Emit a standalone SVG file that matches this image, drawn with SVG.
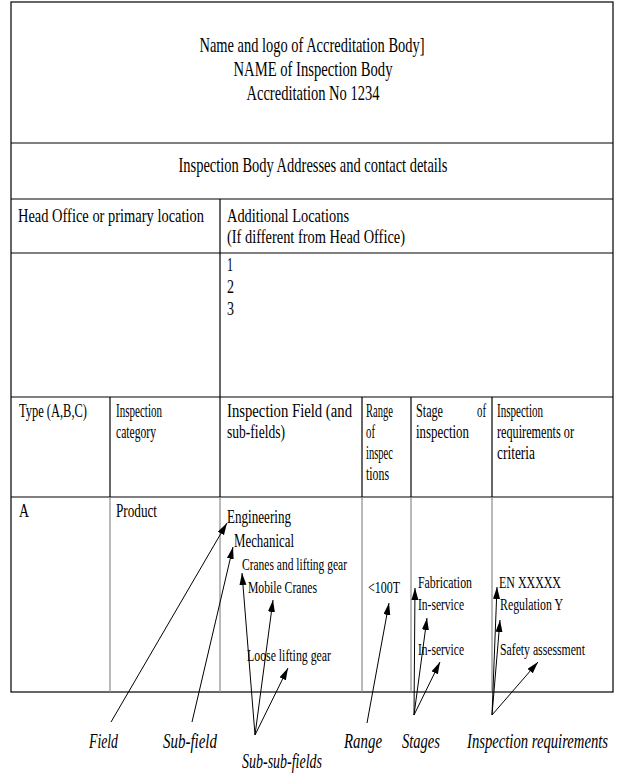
<svg xmlns="http://www.w3.org/2000/svg" width="624" height="780" viewBox="0 0 624 780">
<style>
text{font-family:"Liberation Serif","Times New Roman",serif;fill:#000}
.t{font-size:21px}
.b{font-size:18px}
.s{font-size:16px}
.l{font-size:20px;font-style:italic}
.line{stroke:#000;stroke-width:1.2;fill:none}
.grey{stroke:#8a8a8a;stroke-width:1.2;fill:none}
.arr{stroke:#000;stroke-width:1;fill:none;marker-end:url(#ah)}
</style>
<defs>
<marker id="ah" markerUnits="userSpaceOnUse" markerWidth="13" markerHeight="8" refX="12" refY="3.5" orient="auto">
<path d="M0,0 L12,3.5 L0,7 z" fill="#000"/>
</marker>
</defs>
<rect width="624" height="780" fill="#fff"/>
<g id="table-grid">
<rect x="11" y="2" width="602" height="690" class="line"/>
<line x1="11" y1="143" x2="613" y2="143" class="line"/>
<line x1="11" y1="199" x2="613" y2="199" class="line"/>
<line x1="11" y1="253" x2="613" y2="253" class="line"/>
<line x1="11" y1="397" x2="613" y2="397" class="line"/>
<line x1="11" y1="497" x2="613" y2="497" class="line"/>
<line x1="220" y1="199" x2="220" y2="397" class="line"/>
<line x1="110" y1="397" x2="110" y2="497" class="line"/>
<line x1="220" y1="397" x2="220" y2="497" class="line"/>
<line x1="362" y1="397" x2="362" y2="497" class="line"/>
<line x1="411" y1="397" x2="411" y2="497" class="line"/>
<line x1="492" y1="397" x2="492" y2="497" class="line"/>
<line x1="110" y1="497" x2="110" y2="692" class="grey"/>
<line x1="220" y1="497" x2="220" y2="692" class="grey"/>
<line x1="362" y1="497" x2="362" y2="692" class="grey"/>
<line x1="411" y1="497" x2="411" y2="692" class="grey"/>
<line x1="492" y1="497" x2="492" y2="692" class="grey"/>
</g>
<g id="title">
<text class="t" x="312" y="52" text-anchor="middle" textLength="225" lengthAdjust="spacingAndGlyphs">Name and logo of Accreditation Body]</text>
<text class="t" x="313" y="76" text-anchor="middle" textLength="159" lengthAdjust="spacingAndGlyphs">NAME of Inspection Body</text>
<text class="t" x="313" y="100" text-anchor="middle" textLength="133" lengthAdjust="spacingAndGlyphs">Accreditation No 1234</text>
</g>
<g id="addresses">
<text class="t" x="313" y="172" text-anchor="middle" textLength="269" lengthAdjust="spacingAndGlyphs">Inspection Body Addresses and contact details</text>
</g>
<g id="locations">
<text class="b" x="18" y="222" textLength="186" lengthAdjust="spacingAndGlyphs">Head Office or primary location</text>
<text class="b" x="227" y="222" textLength="122" lengthAdjust="spacingAndGlyphs">Additional Locations</text>
<text class="b" x="227" y="243" textLength="178" lengthAdjust="spacingAndGlyphs">(If different from Head Office)</text>
<text class="b" x="227" y="271" textLength="6" lengthAdjust="spacingAndGlyphs">1</text>
<text class="b" x="227" y="293" textLength="7" lengthAdjust="spacingAndGlyphs">2</text>
<text class="b" x="227" y="315" textLength="7" lengthAdjust="spacingAndGlyphs">3</text>
</g>
<g id="header-row">
<text class="b" x="19" y="417" textLength="68" lengthAdjust="spacingAndGlyphs">Type (A,B,C)</text>
<text class="b" x="116" y="417" textLength="46" lengthAdjust="spacingAndGlyphs">Inspection</text>
<text class="b" x="116" y="438" textLength="40" lengthAdjust="spacingAndGlyphs">category</text>
<text class="b" x="227" y="417" textLength="125" lengthAdjust="spacingAndGlyphs">Inspection Field (and</text>
<text class="b" x="227" y="438" textLength="58" lengthAdjust="spacingAndGlyphs">sub-fields)</text>
<text class="b" x="366" y="417" textLength="27" lengthAdjust="spacingAndGlyphs">Range</text>
<text class="b" x="366" y="438" textLength="9" lengthAdjust="spacingAndGlyphs">of</text>
<text class="b" x="366" y="459" textLength="27" lengthAdjust="spacingAndGlyphs">inspec</text>
<text class="b" x="366" y="480" textLength="23" lengthAdjust="spacingAndGlyphs">tions</text>
<text class="b" x="416" y="417" textLength="27" lengthAdjust="spacingAndGlyphs">Stage</text>
<text class="b" x="477" y="417" textLength="9" lengthAdjust="spacingAndGlyphs">of</text>
<text class="b" x="416" y="438" textLength="53" lengthAdjust="spacingAndGlyphs">inspection</text>
<text class="b" x="497" y="417" textLength="46" lengthAdjust="spacingAndGlyphs">Inspection</text>
<text class="b" x="497" y="438" textLength="77" lengthAdjust="spacingAndGlyphs">requirements or</text>
<text class="b" x="497" y="459" textLength="38" lengthAdjust="spacingAndGlyphs">criteria</text>
</g>
<g id="data-row">
<text class="b" x="19" y="517" textLength="10" lengthAdjust="spacingAndGlyphs">A</text>
<text class="b" x="116" y="517" textLength="41" lengthAdjust="spacingAndGlyphs">Product</text>
<text class="b" x="227" y="523" textLength="64" lengthAdjust="spacingAndGlyphs">Engineering</text>
<text class="b" x="234" y="547" textLength="60" lengthAdjust="spacingAndGlyphs">Mechanical</text>
<text class="s" x="242" y="570" textLength="105" lengthAdjust="spacingAndGlyphs">Cranes and lifting gear</text>
<text class="s" x="248" y="593" textLength="69" lengthAdjust="spacingAndGlyphs">Mobile Cranes</text>
<text class="s" x="247" y="661" textLength="84" lengthAdjust="spacingAndGlyphs">Loose lifting gear</text>
<text class="s" x="368" y="593" textLength="32" lengthAdjust="spacingAndGlyphs">&lt;100T</text>
<text class="s" x="418" y="588" textLength="54" lengthAdjust="spacingAndGlyphs">Fabrication</text>
<text class="s" x="418" y="610" textLength="46" lengthAdjust="spacingAndGlyphs">In-service</text>
<text class="s" x="418" y="655" textLength="46" lengthAdjust="spacingAndGlyphs">In-service</text>
<text class="s" x="499" y="588" textLength="62" lengthAdjust="spacingAndGlyphs">EN XXXXX</text>
<text class="s" x="500" y="610" textLength="63" lengthAdjust="spacingAndGlyphs">Regulation Y</text>
<text class="s" x="500" y="655" textLength="85" lengthAdjust="spacingAndGlyphs">Safety assessment</text>
</g>
<g id="connectors">
<line x1="111" y1="722" x2="227" y2="523" class="arr"/>
<line x1="192" y1="722" x2="233" y2="547" class="arr"/>
<line x1="255" y1="735" x2="242" y2="573" class="arr"/>
<line x1="255" y1="735" x2="273" y2="600" class="arr"/>
<line x1="255" y1="735" x2="288" y2="668" class="arr"/>
<line x1="367" y1="723" x2="389" y2="603" class="arr"/>
<line x1="414" y1="715" x2="415" y2="588" class="arr"/>
<line x1="414" y1="715" x2="427" y2="618" class="arr"/>
<line x1="414" y1="715" x2="440" y2="662" class="arr"/>
<line x1="492" y1="715" x2="497" y2="587" class="arr"/>
<line x1="492" y1="715" x2="500" y2="620" class="arr"/>
<line x1="492" y1="715" x2="538" y2="662" class="arr"/>
</g>
<g id="label-field"><text class="l" x="89" y="748" textLength="29" lengthAdjust="spacingAndGlyphs">Field</text></g>
<g id="label-subfield"><text class="l" x="163" y="748" textLength="54" lengthAdjust="spacingAndGlyphs">Sub-field</text></g>
<g id="label-subsubfields"><text class="l" x="242" y="768" textLength="80" lengthAdjust="spacingAndGlyphs">Sub-sub-fields</text></g>
<g id="label-range"><text class="l" x="344" y="748" textLength="38" lengthAdjust="spacingAndGlyphs">Range</text></g>
<g id="label-stages"><text class="l" x="402" y="748" textLength="38" lengthAdjust="spacingAndGlyphs">Stages</text></g>
<g id="label-requirements"><text class="l" x="608" y="748" text-anchor="end" textLength="141" lengthAdjust="spacingAndGlyphs">Inspection requirements</text></g>
</svg>
